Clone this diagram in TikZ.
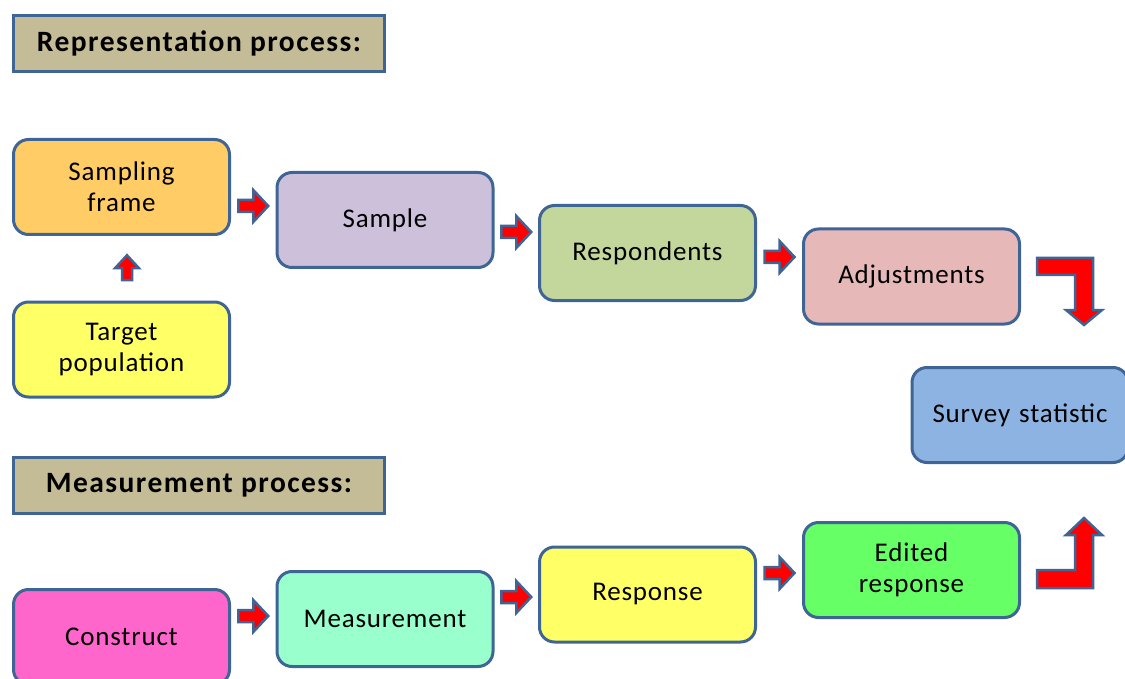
\documentclass[tikz,border=0pt]{standalone}
\usepackage{fontspec}
\setmainfont{Carlito}
\usetikzlibrary{calc}
\definecolor{bord}{HTML}{3F6496}
\definecolor{tan}{HTML}{C4BC96}
\definecolor{cOrange}{HTML}{FFCC66}
\definecolor{cYellow}{HTML}{FFFF66}
\definecolor{cLav}{HTML}{CCC0DA}
\definecolor{cOlive}{HTML}{C3D69B}
\definecolor{cRose}{HTML}{E6B9B8}
\definecolor{cBlue}{HTML}{8DB3E2}
\definecolor{cMag}{HTML}{FF66CC}
\definecolor{cMint}{HTML}{99FFCC}
\definecolor{cGreen}{HTML}{66FF66}
\newfontfamily\stagefont[LetterSpace=3]{Carlito}
\newfontfamily\headfont[LetterSpace=5]{Carlito}
\begin{document}
\begin{tikzpicture}[x=1pt,y=-1pt,
  stage/.style={rectangle, rounded corners=15pt, draw=bord, line width=3pt,
    minimum width=216pt, minimum height=95pt, inner sep=2pt,
    text width=205pt, align=center,
    font=\stagefont\fontsize{27}{31}\selectfont},
  header/.style={rectangle, draw=bord, fill=tan, line width=3pt,
    minimum width=371pt, minimum height=56pt, inner sep=2pt,
    font=\headfont\bfseries\fontsize{29.5}{33}\selectfont},
  blk/.style={draw=bord, fill=red, line width=2.5pt, line join=miter},
  rarrow/.pic={\draw[blk] (-15,-6) -- (0,-6) -- (0,-16) -- (15,0) -- (0,16) -- (0,6) -- (-15,6) -- cycle;},
  uarrow/.pic={\draw[blk] (-5,12) -- (-5,0) -- (-12,0) -- (0,-13) -- (12,0) -- (5,0) -- (5,12) -- cycle;}
]
\useasboundingbox (0,0) rectangle (1125,679);
\clip (0,0) rectangle (1125,679);

% section headers
\node[header] (h1) at (199,43.5) {Representation process:};
\node[header] (h2) at (199,485.5) {Measurement process:};

% representation chain
\node[stage, fill=cOrange] (sf)  at (121.5,187)   {Sampling\\frame};
\node[stage, fill=cYellow] (tp)  at (121.5,349.5) {Target\\population};
\node[stage, fill=cLav]    (sam) at (385,220)     {Sample};
\node[stage, fill=cOlive]  (res) at (647.5,253)   {Respondents};
\node[stage, fill=cRose]   (adj) at (911.5,276.5) {Adjustments};

% result
\node[stage, fill=cBlue] (ss) at (1020,415) {Survey statistic};

% measurement chain
\node[stage, fill=cMag]   (con)  at (121.5,637) {Construct};
\node[stage, fill=cMint]  (mea)  at (385,619)   {Measurement};
\node[stage, fill=cYellow](rsp)  at (647.5,594.5) {Response};
\node[stage, fill=cGreen] (edr)  at (911.5,570) {Edited\\response};

% block arrows between stages
\coordinate (m1) at ($(sf.east)!.5!(sam.west)$);
\coordinate (m2) at ($(sam.east)!.5!(res.west)$);
\coordinate (m3) at ($(res.east)!.5!(adj.west)$);
\coordinate (m4) at ($(con.east)!.5!(mea.west)$);
\coordinate (m5) at ($(mea.east)!.5!(rsp.west)$);
\coordinate (m6) at ($(rsp.east)!.5!(edr.west)$);
\pic at (m1 |- 0,206) {rarrow};
\pic at (m2 |- 0,232) {rarrow};
\pic at (m3 |- 0,257) {rarrow};
\pic at (m4 |- 0,616) {rarrow};
\pic at (m5 |- 0,597) {rarrow};
\pic at (m6 |- 0,573) {rarrow};
\coordinate (mu) at ($(tp.north)!.5!(sf.south)$);
\pic at (mu -| 127,0) {uarrow};

% elbow arrows into the survey statistic
\draw[blk] (1037,258) -- (1093,258) -- (1093,310) -- (1102,310) -- (1084,325)
  -- (1066,310) -- (1075,310) -- (1075,275) -- (1037,275) -- cycle;
\draw[blk] (1037,588) -- (1093,588) -- (1093,535) -- (1102,535) -- (1084,518)
  -- (1066,535) -- (1075,535) -- (1075,570) -- (1037,570) -- cycle;
\end{tikzpicture}
\end{document}
